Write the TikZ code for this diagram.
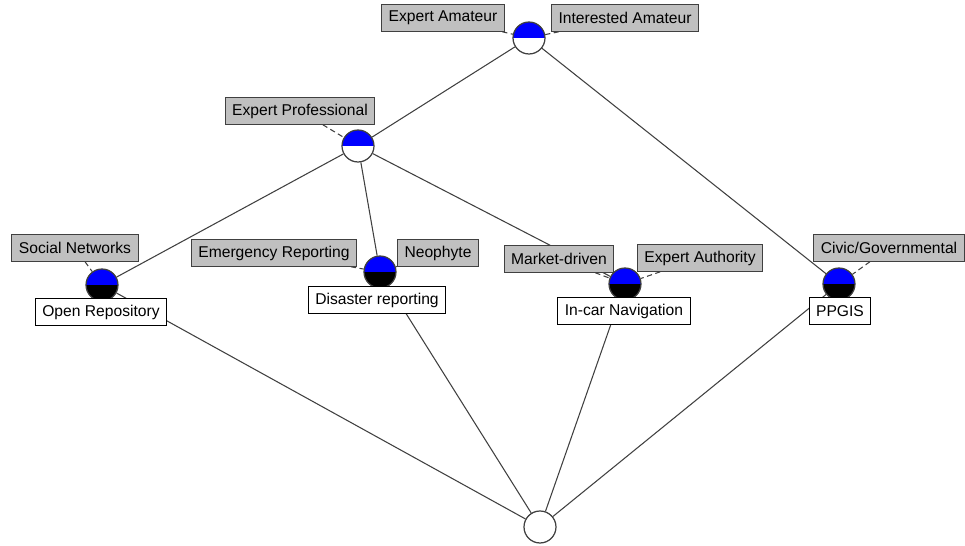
\documentclass[tikz,border=0pt]{standalone}
\usepackage{fontspec}
\setmainfont{Liberation Sans}
\usepackage{tikz}
\usetikzlibrary{arrows.meta,positioning,calc}
\definecolor{LatBlue}{RGB}{0,0,255}
\definecolor{LatGray}{RGB}{192,192,192}
\definecolor{LatLine}{RGB}{64,64,64}

\begin{document}
\begin{tikzpicture}[x=0.02cm, y=-0.02cm,
    concept/.style={circle, draw=LatLine, line width=0.7pt, minimum size=0.64cm,
                    inner sep=0pt, fill=#1,
                    path picture={\fill[LatBlue] (path picture bounding box.west)
                      rectangle (path picture bounding box.north east);}},
    plain/.style={circle, draw=LatLine, line width=0.7pt, minimum size=0.64cm,
                  inner sep=0pt, fill=white},
    attr/.style={rectangle, draw=LatLine, fill=LatGray, line width=0.6pt,
                 minimum height=0.53cm, inner xsep=4pt, font=\fontsize{8.9}{10}\selectfont},
    obj/.style={rectangle, draw=black, fill=white, line width=0.6pt,
                minimum height=0.53cm, inner xsep=4pt, font=\fontsize{8.9}{10}\selectfont},
    edge/.style={LatLine, line width=0.6pt},
    tie/.style={LatLine, line width=0.6pt, dash pattern=on 3pt off 2pt}
  ]
    \useasboundingbox[fill=white] (0,0) rectangle (965,546);

    \node[concept=white] (top) at (529,38) {};
    \node[concept=white] (prof) at (358,146) {};
    \node[concept=black] (social) at (102,285) {};
    \node[concept=black] (disaster) at (380,272) {};
    \node[concept=black] (incar) at (625,284) {};
    \node[concept=black] (ppgis) at (839,284) {};
    \node[plain] (bottom) at (540,527) {};

    \draw[edge] (top) -- (prof);
    \draw[edge] (top) -- (ppgis);
    \draw[edge] (prof) -- (social);
    \draw[edge] (prof) -- (disaster);
    \draw[edge] (prof) -- (incar);
    \draw[edge] (social) -- (bottom);
    \draw[edge] (disaster) -- (bottom);
    \draw[edge] (incar) -- (bottom);
    \draw[edge] (ppgis) -- (bottom);

    \node[attr] (eaLab) at (443,18) {Expert Amateur};
    \node[attr] (iaLab) at (625,18) {Interested Amateur};
    \node[attr] (epLab) at (300,111) {Expert Professional};
    \node[attr] (snLab) at (75,248) {Social Networks};
    \node[attr] (erLab) at (274,253) {Emergency Reporting};
    \node[attr] (neLab) at (438,253) {Neophyte};
    \node[attr] (mdLab) at (559,259) {Market-driven};
    \node[attr] (exLab) at (700,258) {Expert Authority};
    \node[attr] (cgLab) at (889,248) {Civic/Governmental};

    \node[obj] (orLab) at (101,312) {Open Repository};
    \node[obj] (drLab) at (377,300) {Disaster reporting};
    \node[obj] (inLab) at (624,311) {In-car Navigation};
    \node[obj] (ppLab) at (840,311) {PPGIS};

    \draw[tie] (eaLab) -- (top);
    \draw[tie] (iaLab) -- (top);
    \draw[tie] (epLab) -- (prof);
    \draw[tie] (snLab) -- (social);
    \draw[tie] (erLab) -- (disaster);
    \draw[tie] (neLab) -- (disaster);
    \draw[tie] (mdLab) -- (incar);
    \draw[tie] (exLab) -- (incar);
    \draw[tie] (cgLab) -- (ppgis);
  \end{tikzpicture}
\end{document}
